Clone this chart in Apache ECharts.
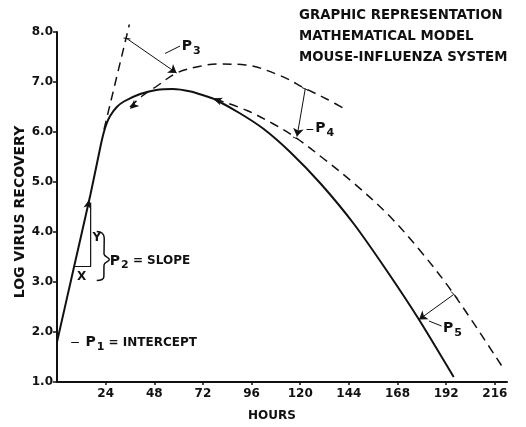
<!DOCTYPE html>
<html>
<head>
<meta charset="utf-8">
<script src="https://cdn.jsdelivr.net/npm/echarts@6/dist/echarts.min.js"></script>
<style>
  html, body { margin: 0; padding: 0; background: #fff; }
  #chart { width: 526px; height: 427px; }
</style>
</head>
<body>
<div id="chart"></div>
<script>
// hours / log virus recovery
var solidCurve = [[0, 1.8], [8, 3.23], [16.5, 4.75], [21.5, 5.72], [23, 5.98], [24.5, 6.17], [26.2, 6.32],
    [29.5, 6.5], [33, 6.61], [41, 6.76], [49, 6.84], [57, 6.86], [66, 6.81], [74, 6.71], [78, 6.65],
    [90, 6.38], [102, 6.06], [115, 5.6], [130, 4.97], [146.3, 4.17], [162.8, 3.22], [178.4, 2.26], [195.7, 1.1]];
var tangentLine = [[23.2, 6.05], [35.7, 8.15]];
var upperDashed = [[36, 6.5], [42, 6.72], [49, 6.91], [59, 7.18], [70, 7.31], [79, 7.36], [93, 7.34],
    [110, 7.13], [122.5, 6.87], [133, 6.66], [143, 6.44]];
var lowerDashed = [[78, 6.66], [93.7, 6.43], [106.8, 6.16], [118.4, 5.87], [131.7, 5.46], [146.3, 4.98],
    [162.8, 4.37], [179.3, 3.62], [195.7, 2.76], [219.6, 1.31]];

// slope triangle and brace for P2
var slopeTriangle = [[8.9, 3.31], [16.6, 3.31], [16.6, 4.59]];
var braceP2 = [[19.6, 4.01], [22.2, 3.98], [23.3, 3.88], [23.2, 3.56], [25.8, 3.45], [23.2, 3.34],
    [23.1, 3.1], [22.2, 3.05], [19.6, 3.03]];

// parameter arrows: [from, to]
var arrowP3 = [[34.4, 7.87], [59, 7.18]];
var arrowP4 = [[122.5, 6.87], [118.4, 5.91]];
var arrowP5 = [[195.7, 2.75], [178.6, 2.25]];
// small end bars and leader strokes
var endBars = [
    [[32.8, 7.88], [36.2, 7.86]],
    [[120.8, 6.89], [124.1, 6.83]],
    [[116.4, 5.9], [119.3, 5.85]],
    [[194.4, 2.81], [197.7, 2.67]]
];
var leaders = [
    [[53.3, 7.57], [60.7, 7.72]],
    [[123.1, 6.06], [126.4, 6.06]],
    [[183.5, 2.22], [189.7, 2.12]],
    [[7, 1.79], [10.8, 1.79]]
];
// arrowheads sitting on the curves: [hour, value, rotation]
var curveArrows = [[15.9, 4.65, -12], [36, 6.46, 132], [77, 6.67, 70]];

// labels: [hour, value, text]
var paramLabels = [
    [61.3, 7.71, '{p|P}{s|3}'],
    [127.2, 6.07, '{p|P}{s|4}'],
    [190.2, 2.07, '{p|P}{s|5}'],
    [25.8, 3.42, '{p|P}{s|2}{t| = SLOPE}'],
    [13.8, 1.79, '{p|P}{s|1}{t| = INTERCEPT}']
];
var xyLabels = [[12.2, 3.11, 'X'], [19.6, 3.89, 'Y']];

var hourTicks = [24, 48, 72, 96, 120, 144, 168, 192, 216];
var titleLines = ['GRAPHIC REPRESENTATION', 'MATHEMATICAL MODEL', 'MOUSE-INFLUENZA SYSTEM'];

var FONT = 'DejaVu Sans';
var INK = '#111';

function seg(pair, extra) {
    var a = { coord: pair[0], symbol: 'none' };
    var b = { coord: pair[1], symbol: 'none' };
    if (extra) { extra(a, b); }
    return [a, b];
}

var markLines = [];
markLines.push(seg(arrowP3, function (a, b) { a.lineStyle = { curveness: 0.27 }; b.symbol = 'arrow'; }));
markLines.push(seg(arrowP4, function (a, b) { b.symbol = 'arrow'; }));
markLines.push(seg(arrowP5, function (a, b) { b.symbol = 'arrow'; }));
endBars.forEach(function (s) { markLines.push(seg(s)); });
leaders.forEach(function (s) { markLines.push(seg(s)); });

var richLabel = {
    p: { fontFamily: FONT, fontWeight: 'bold', fontSize: 14, color: INK },
    s: { fontFamily: FONT, fontWeight: 'bold', fontSize: 11, color: INK, padding: [9, 0, 0, 1] },
    t: { fontFamily: FONT, fontWeight: 'bold', fontSize: 12, color: INK }
};

var chart = echarts.init(document.getElementById('chart'));
chart.setOption({
    animation: false,
    backgroundColor: '#fff',
    title: {
        text: titleLines.join('\n'),
        left: 299,
        top: 5,
        padding: 0,
        textStyle: { fontFamily: FONT, fontWeight: 'bold', fontSize: 13.3, color: INK, lineHeight: 21 }
    },
    grid: { left: 57, right: 19, top: 32, bottom: 45, containLabel: false, outerBoundsMode: 'none' },
    xAxis: {
        type: 'value',
        min: 0,
        max: 222,
        name: 'HOURS',
        nameLocation: 'middle',
        nameGap: 28,
        nameTextStyle: { fontFamily: FONT, fontWeight: 'bold', fontSize: 12, color: INK, padding: [0, 20, 0, 0] },
        axisLine: { lineStyle: { color: INK, width: 2 } },
        axisTick: { customValues: hourTicks, length: 3, lineStyle: { color: INK, width: 1.5 } },
        axisLabel: { customValues: hourTicks, margin: 6, fontFamily: FONT, fontWeight: 'bold', fontSize: 12, color: INK },
        splitLine: { show: false }
    },
    yAxis: {
        type: 'value',
        min: 1,
        max: 8,
        interval: 1,
        name: 'LOG VIRUS RECOVERY',
        nameLocation: 'middle',
        nameRotate: 90,
        nameGap: 30,
        nameMoveOverlap: false,
        nameTextStyle: { fontFamily: FONT, fontWeight: 'bold', fontSize: 14, color: INK, padding: [0, 10, 0, 0] },
        axisLine: { show: true, lineStyle: { color: INK, width: 2 } },
        axisTick: { show: true, length: 4, lineStyle: { color: INK, width: 1.5 } },
        axisLabel: {
            margin: 4, fontFamily: FONT, fontWeight: 'bold', fontSize: 12, color: INK,
            formatter: function (v) { return v.toFixed(1); }
        },
        splitLine: { show: false }
    },
    series: [
        {
            name: 'fitted', type: 'line', data: solidCurve, smooth: 0.25,
            showSymbol: false, silent: true,
            lineStyle: { color: INK, width: 2 },
            markLine: {
                silent: true, animation: false, symbolSize: 8,
                label: { show: false },
                lineStyle: { color: INK, width: 1, type: 'solid' },
                emphasis: { disabled: true },
                data: markLines
            },
            markPoint: {
                silent: true, animation: false, label: { show: false },
                itemStyle: { color: INK },
                data: curveArrows.map(function (c) {
                    return { coord: [c[0], c[1]], symbol: 'arrow', symbolSize: [6, 9], symbolRotate: c[2] };
                })
            }
        },
        {
            name: 'tangent', type: 'line', data: tangentLine, showSymbol: false, silent: true, clip: false,
            lineStyle: { color: INK, width: 1.5, type: [9, 6] }
        },
        {
            name: 'upper', type: 'line', data: upperDashed, smooth: 0.35, showSymbol: false, silent: true,
            lineStyle: { color: INK, width: 1.5, type: [9, 6] }
        },
        {
            name: 'lower', type: 'line', data: lowerDashed, smooth: 0.35, showSymbol: false, silent: true,
            lineStyle: { color: INK, width: 1.5, type: [9, 6] }
        },
        {
            name: 'triangle', type: 'line', data: slopeTriangle, showSymbol: false, silent: true,
            lineStyle: { color: INK, width: 1.2 }
        },
        {
            name: 'brace', type: 'line', data: braceP2, smooth: 0.4, showSymbol: false, silent: true,
            lineStyle: { color: INK, width: 1.5 }
        },
        {
            name: 'params', type: 'scatter', data: paramLabels, symbolSize: 1, silent: true,
            itemStyle: { color: 'rgba(0,0,0,0)', opacity: 1 },
            label: {
                show: true, position: 'right', distance: 0,
                formatter: function (p) { return p.data[2]; },
                rich: richLabel
            }
        },
        {
            name: 'xy', type: 'scatter', data: xyLabels, symbolSize: 1, silent: true,
            itemStyle: { color: 'rgba(0,0,0,0)', opacity: 1 },
            label: {
                show: true, position: 'inside',
                formatter: function (p) { return p.data[2]; },
                fontFamily: FONT, fontWeight: 'bold', fontSize: 12, color: INK
            }
        }
    ]
});
</script>
</body>
</html>
